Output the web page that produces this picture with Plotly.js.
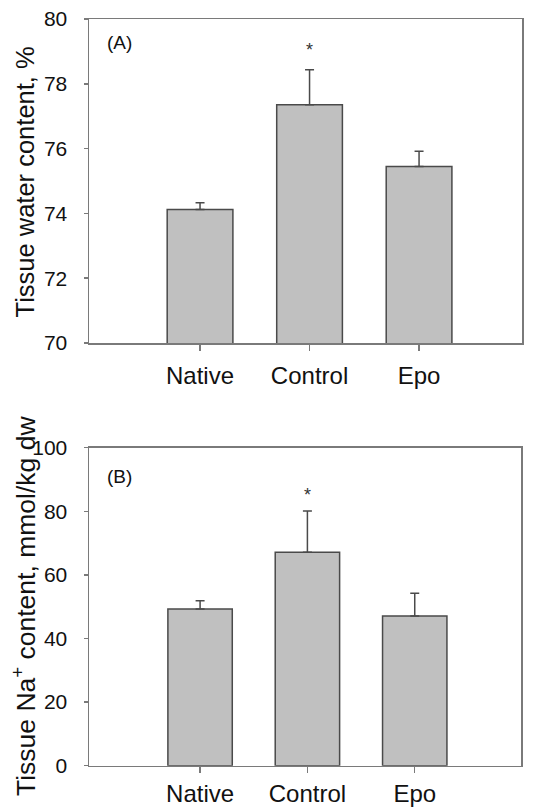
<!DOCTYPE html>
<html>
<head>
<meta charset="utf-8">
<script src="https://cdn.plot.ly/plotly-3.0.1.min.js"></script>
<style>html,body{margin:0;padding:0;background:#fff;}#chart{width:541px;height:809px;}</style>
</head>
<body>
<div id="chart"></div>
<script>
// Data
var categories = ["Native", "Control", "Epo"];
var waterMean = [74.12, 77.35, 75.45];
var waterErr = [0.21, 1.08, 0.47];
var sodiumMean = [49.3, 67.1, 47.1];
var sodiumErr = [2.6, 13.0, 7.1];
var waterStarY = [79.05];
var sodiumStarY = [85.2];
var starCategory = ["Control"];
var waterTicks = [70, 72, 74, 76, 78, 80];
var sodiumTicks = [0, 20, 40, 60, 80, 100];

var W = 541, H = 809;
function px(x) { return x / W; }
function py(y) { return 1 - y / H; }

var barStyle = {color: "#c0c0c0", line: {color: "#4a4a4a", width: 1.5}};
var errStyle = {type: "data", symmetric: false, arrayminus: [0, 0, 0], color: "#4a4a4a", thickness: 1.5, width: 4.5};

var traces = [
  {type: "bar", x: categories, y: waterMean, width: 0.6, marker: barStyle,
   error_y: Object.assign({}, errStyle, {array: waterErr}), xaxis: "x", yaxis: "y", hoverinfo: "x+y"},
  {type: "bar", x: categories, y: sodiumMean, width: 0.6, marker: barStyle,
   error_y: Object.assign({}, errStyle, {array: sodiumErr}), xaxis: "x2", yaxis: "y2", hoverinfo: "x+y"}
];

var fontFam = "Liberation Sans, Arial, sans-serif";
var axisCommon = {
  showline: true, mirror: true, linecolor: "#7a7a7a", linewidth: 1.5,
  ticks: "outside", tickcolor: "#7a7a7a", tickwidth: 1.5,
  showgrid: false, zeroline: false, fixedrange: true,
  tickfont: {family: fontFam, size: 21, color: "#111"}
};

var layout = {
  width: W, height: H,
  margin: {l: 0, r: 0, t: 0, b: 0},
  paper_bgcolor: "#fff", plot_bgcolor: "#fff",
  showlegend: false,
  xaxis: Object.assign({}, axisCommon, {
    domain: [px(89), px(522)], anchor: "y", type: "category",
    range: [-1.014, 2.94], ticklen: 6, ticklabelstandoff: 5,
    tickfont: {family: fontFam, size: 24, color: "#111"}
  }),
  yaxis: Object.assign({}, axisCommon, {
    domain: [py(343), py(19)], anchor: "x",
    range: [70, 80], tickvals: waterTicks, ticklen: 4, ticklabelstandoff: 12
  }),
  xaxis2: Object.assign({}, axisCommon, {
    domain: [px(89), px(521)], anchor: "y2", type: "category",
    range: [-1.035, 2.99], ticklen: 6, ticklabelstandoff: 0,
    tickfont: {family: fontFam, size: 24, color: "#111"}
  }),
  yaxis2: Object.assign({}, axisCommon, {
    domain: [py(765.7), py(447.7)], anchor: "x2",
    range: [0, 100], tickvals: sodiumTicks, ticklen: 4, ticklabelstandoff: 12
  }),
  annotations: [
    {text: "Tissue water content, %", textangle: -90, xref: "paper", yref: "paper",
     x: px(24), y: py(182.5), xanchor: "center", yanchor: "middle", showarrow: false,
     font: {family: fontFam, size: 25.5, color: "#111"}},
    {text: "Tissue Na<sup>+</sup> content, mmol/kg dw", textangle: -90, xref: "paper", yref: "paper",
     x: px(24), y: py(606), xanchor: "center", yanchor: "middle", showarrow: false,
     font: {family: fontFam, size: 26.5, color: "#111"}},
    {text: "(A)", xref: "paper", yref: "paper", x: px(105), y: py(43), xanchor: "left", yanchor: "middle",
     showarrow: false, font: {family: fontFam, size: 19, color: "#111"}},
    {text: "(B)", xref: "paper", yref: "paper", x: px(105), y: py(476), xanchor: "left", yanchor: "middle",
     showarrow: false, font: {family: fontFam, size: 19, color: "#111"}},
    {text: "*", xref: "x", yref: "y", x: starCategory[0], y: waterStarY[0], xanchor: "center", yanchor: "middle",
     showarrow: false, font: {family: fontFam, size: 18, color: "#333"}},
    {text: "*", xref: "x2", yref: "y2", x: starCategory[0], y: sodiumStarY[0], xanchor: "center", yanchor: "middle",
     showarrow: false, font: {family: fontFam, size: 18, color: "#333"}}
  ]
};

Plotly.newPlot("chart", traces, layout, {displayModeBar: false, staticPlot: true});
</script>
</body>
</html>
